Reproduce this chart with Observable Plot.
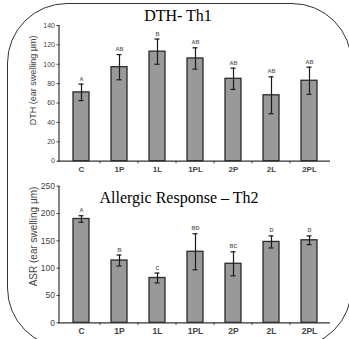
<!DOCTYPE html>
<html><head><meta charset="utf-8">
<script src="https://cdn.jsdelivr.net/npm/d3@7"></script>
<script src="https://cdn.jsdelivr.net/npm/@observablehq/plot@0.6"></script>
<style>
html,body{margin:0;padding:0;background:#fff;overflow:hidden;}
#wrap{position:relative;width:349px;height:339px;overflow:hidden;}
#border{position:absolute;left:7px;top:3px;width:345px;height:345px;border:1px solid #333;border-radius:60px;box-sizing:border-box;pointer-events:none;}
#top{position:absolute;left:0;top:0;}
#bot{position:absolute;left:0;top:178px;}
svg{display:block;}
</style></head><body>
<div id="wrap"><div id="top"></div><div id="bot"></div><div id="border"></div></div>
<script>
const groups = ["C","1P","1L","1PL","2P","2L","2PL"];
const dthMean = [71,97,113,106,85,68,83];
const dthErr = [8.5,13,13,11,11,19,14];
const dthLetters = ["A","AB","B","AB","AB","AB","AB"];
const asrMean = [190,114,82,130,108,148,151];
const asrErr = [6,10,9,33,22,11,8];
const asrLetters = ["A","B","C","BD","BC","D","D"];
const dthTicks = [0,20,40,60,80,100,120,140];
const asrTicks = [0,50,100,150,200,250];

function chart(o) {
  const data = groups.map((g,i)=>({g, m:o.means[i], lo:o.means[i]-o.errs[i], hi:o.means[i]+o.errs[i], L:o.letters[i]}));
  const axisLines = (index, scales, values, dims) => {
    const {x, y} = scales;
    const g = d3.create("svg:g").attr("stroke","#333").attr("fill","none");
    const x0 = dims.marginLeft - 1, x1 = dims.width - dims.marginRight + 1;
    const y0 = y(0) + 0.5;
    g.append("line").attr("x1",x0).attr("x2",x0).attr("y1",y(o.ymax)).attr("y2",y0).attr("stroke-width",1.2);
    g.append("line").attr("x1",x0-1).attr("x2",x1).attr("y1",y0).attr("y2",y0).attr("stroke-width",1.2);
    const bw = typeof x.bandwidth === "function" ? x.bandwidth() : x.bandwidth;
    const step = x(groups[1]) - x(groups[0]);
    for (const name of groups.slice(1)) {
      const bx = x(name) - (step - bw)/2;
      g.append("line").attr("x1",bx).attr("x2",bx).attr("y1",y0).attr("y2",y0+2).attr("stroke-width",1);
    }
    return g.node();
  };
  return Plot.plot({
    width: 349, height: o.height,
    marginLeft: 60, marginRight: 20, marginTop: o.marginTop, marginBottom: o.marginBottom,
    style: {fontFamily: "Liberation Sans, Arial, sans-serif", background: "transparent"},
    x: {type: "band", domain: groups, paddingInner: 0.58, paddingOuter: 0.29},
    y: {domain: [0, o.ymax]},
    marks: [
      Plot.axisY({ticks: o.ticks, tickSize: 3, tickPadding: 2, dx: -0.5, fontSize: o.tickFont, color: "#444", label: null}),
      Plot.axisX({tickSize: 0, tickPadding: 5, fontSize: o.xFont, fontWeight: "bold", color: "#444", label: null}),
      Plot.barY(data, {x:"g", y:"m", fill:"#999999", stroke:"#2a2a2a", strokeWidth:1.3}),
      Plot.ruleX(data, {x:"g", y1:"lo", y2:"hi", stroke:"#1a1a1a", strokeWidth:1.2}),
      Plot.tickY(data, {x:"g", y:"hi", stroke:"#1a1a1a", strokeWidth:1.2, insetLeft:5.5, insetRight:5.5}),
      Plot.tickY(data, {x:"g", y:"lo", stroke:"#1a1a1a", strokeWidth:1.2, insetLeft:5.5, insetRight:5.5}),
      Plot.text(data, {x:"g", y:"hi", text:"L", dy:-3.5, lineAnchor:"bottom", fontSize:5.5, fontWeight:"bold", fill:"#666"}),
      Plot.text([o.title], {frameAnchor:"top", dx:o.titleDx, dy:o.titleDy, lineAnchor:"bottom", fontSize:16, fontFamily:"Liberation Serif, Times New Roman, serif", fill:"#000"}),
      Plot.text([o.ylabel], {frameAnchor:"left", textAnchor:"middle", lineAnchor:"middle", rotate:-90, dx:-27, dy:o.labelDy, fontSize:o.labelFont, fill:"#444"}),
      axisLines
    ]
  });
}

document.getElementById("top").append(chart({
  means: dthMean, errs: dthErr, letters: dthLetters, ticks: dthTicks, ymax: 140,
  height: 178, marginTop: 25, marginBottom: 17.3,
  title: "DTH- Th1", titleDx: -17, titleDy: -5,
  ylabel: "DTH (ear swelling µm)", labelDy: -13, labelFont: 9, tickFont: 7, xFont: 8
}));
document.getElementById("bot").append(chart({
  means: asrMean, errs: asrErr, letters: asrLetters, ticks: asrTicks, ymax: 250,
  height: 161, marginTop: 7.7, marginBottom: 16.7,
  title: "Allergic Response – Th2", titleDx: -16, titleDy: 16.6,
  ylabel: "ASR (ear swelling µm)", labelDy: -18, labelFont: 10, tickFont: 8.5, xFont: 8.5
}));
</script>
</body></html>
